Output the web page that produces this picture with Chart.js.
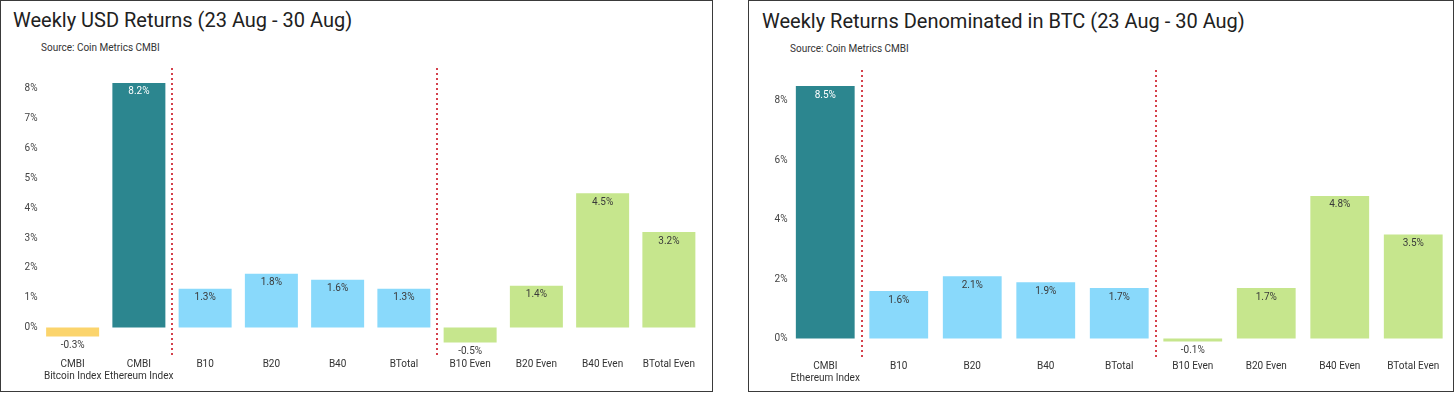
<!DOCTYPE html>
<html>
<head>
<meta charset="utf-8">
<script src="https://cdn.jsdelivr.net/npm/chart.js@4.4.0/dist/chart.umd.min.js"></script>
<style>
    html, body { margin: 0; padding: 0; background: #fff; }
    body { width: 1456px; height: 393px; position: relative; overflow: hidden; font-family: Roboto, sans-serif; }
    .panel { position: absolute; top: 0; height: 390px; border: 1px solid #3a3a3a; background: #fff; }
    .panel canvas { position: absolute; left: 0; top: 0; }
    .title { position: absolute; font-size: 20px; line-height: 24px; color: #212121; white-space: nowrap; }
    .subtitle { position: absolute; font-size: 10px; line-height: 12px; color: #333; white-space: nowrap; }
</style>
</head>
<body>

<div class="panel" id="panel-usd" style="left:0; width:711px;">
    <div class="title" style="left:12px; top:7px;">Weekly USD Returns (23 Aug - 30 Aug)</div>
    <div class="subtitle" style="left:40px; top:41px;">Source: Coin Metrics CMBI</div>
    <canvas id="chart-usd" width="711" height="390"></canvas>
</div>

<div class="panel" id="panel-btc" style="left:748px; width:704px;">
    <div class="title" style="left:13px; top:8px;">Weekly Returns Denominated in BTC (23 Aug - 30 Aug)</div>
    <div class="subtitle" style="left:41px; top:42px;">Source: Coin Metrics CMBI</div>
    <canvas id="chart-btc" width="704" height="390"></canvas>
</div>

<script>
// --- data ---
const usdCategories = [
    ['CMBI', 'Bitcoin Index'], ['CMBI', 'Ethereum Index'],
    'B10', 'B20', 'B40', 'BTotal',
    'B10 Even', 'B20 Even', 'B40 Even', 'BTotal Even'
];
const usdReturns = [-0.3, 8.2, 1.3, 1.8, 1.6, 1.3, -0.5, 1.4, 4.5, 3.2];
const usdGroups = ['btc', 'eth', 'cap', 'cap', 'cap', 'cap', 'even', 'even', 'even', 'even'];
const usdDividersAfter = [1, 5];
const usdTicks = [0, 1, 2, 3, 4, 5, 6, 7, 8];

const btcCategories = [
    ['CMBI', 'Ethereum Index'],
    'B10', 'B20', 'B40', 'BTotal',
    'B10 Even', 'B20 Even', 'B40 Even', 'BTotal Even'
];
const btcReturns = [8.5, 1.6, 2.1, 1.9, 1.7, -0.1, 1.7, 4.8, 3.5];
const btcGroups = ['eth', 'cap', 'cap', 'cap', 'cap', 'even', 'even', 'even', 'even'];
const btcDividersAfter = [0, 4];
const btcTicks = [0, 2, 4, 6, 8];

// --- styles ---
const groupColors = {
    btc: '#fbd46c',
    eth: '#2c868f',
    cap: '#89d9fb',
    even: '#c6e68d'
};
const labelColors = { btc: '#3a3a3a', eth: '#fff', cap: '#3a3a3a', even: '#3a3a3a' };
const dividerColor = '#d4424c';

Chart.defaults.font.family = 'Roboto, sans-serif';
Chart.defaults.animation = false;

const dividerPlugin = {
    id: 'dividers',
    afterDatasetsDraw(chart, args, opts) {
        const xs = chart.scales.x;
        const area = chart.chartArea;
        const ctx = chart.ctx;
        ctx.save();
        ctx.strokeStyle = dividerColor;
        ctx.lineWidth = 2;
        ctx.setLineDash([2, 3]);
        (opts.after || []).forEach(i => {
            const x = Math.round((xs.getPixelForValue(i) + xs.getPixelForValue(i + 1)) / 2);
            ctx.beginPath();
            ctx.moveTo(x, area.top);
            ctx.lineTo(x, area.bottom + 2);
            ctx.stroke();
        });
        ctx.restore();
    }
};

const valueLabelPlugin = {
    id: 'valueLabels',
    afterDatasetsDraw(chart, args, opts) {
        const ctx = chart.ctx;
        const meta = chart.getDatasetMeta(0);
        const values = chart.data.datasets[0].data;
        ctx.save();
        ctx.font = '10px Roboto, sans-serif';
        ctx.textAlign = 'center';
        ctx.textBaseline = 'middle';
        meta.data.forEach((bar, i) => {
            ctx.fillStyle = labelColors[opts.groups[i]];
            ctx.fillText(values[i].toFixed(1) + '%', bar.x, bar.y + 9);
        });
        ctx.restore();
    }
};

function createReturnsChart(canvasId, spec) {
    const ctx = document.getElementById(canvasId);
    return new Chart(ctx, {
        type: 'bar',
        data: {
            labels: spec.categories,
            datasets: [{
                data: spec.values,
                backgroundColor: spec.groups.map(g => groupColors[g]),
                borderWidth: 0,
                barPercentage: 0.8,
                categoryPercentage: 1.0
            }]
        },
        options: {
            responsive: false,
            maintainAspectRatio: false,
            layout: { padding: spec.padding },
            plugins: {
                legend: { display: false },
                tooltip: { enabled: false },
                dividers: { after: spec.dividers },
                valueLabels: { groups: spec.groups }
            },
            scales: {
                x: {
                    grid: { display: false, drawTicks: false },
                    border: { display: false },
                    ticks: {
                        color: '#333',
                        font: { size: 10 },
                        padding: spec.xPad,
                        maxRotation: 0,
                        autoSkip: false
                    },
                    afterFit(scale) { scale.height = spec.xHeight; }
                },
                y: {
                    min: spec.yMin,
                    max: spec.yMax,
                    grid: { display: false, drawTicks: false },
                    border: { display: false },
                    ticks: {
                        color: '#444',
                        font: { size: 10 },
                        padding: spec.yPad,
                        callback: v => v + '%'
                    },
                    afterBuildTicks(scale) {
                        scale.ticks = spec.ticks.map(v => ({ value: v }));
                    },
                    afterFit(scale) { scale.width = spec.yWidth; }
                }
            }
        },
        plugins: [dividerPlugin, valueLabelPlugin]
    });
}

createReturnsChart('chart-usd', {
    categories: usdCategories,
    values: usdReturns,
    groups: usdGroups,
    dividers: usdDividersAfter,
    ticks: usdTicks,
    yMin: -0.92,
    yMax: 8.7,
    yWidth: 38.5,
    yPad: 2,
    xHeight: 36,
    xPad: 3,
    padding: { top: 67, right: 10, bottom: 0, left: 0 }
});

createReturnsChart('chart-btc', {
    categories: btcCategories,
    values: btcReturns,
    groups: btcGroups,
    dividers: btcDividersAfter,
    ticks: btcTicks,
    yMin: -0.62,
    yMax: 9.04,
    yWidth: 39.5,
    yPad: 1,
    xHeight: 34,
    xPad: 3,
    padding: { top: 69, right: 3, bottom: 0, left: 0 }
});
</script>
</body>
</html>
